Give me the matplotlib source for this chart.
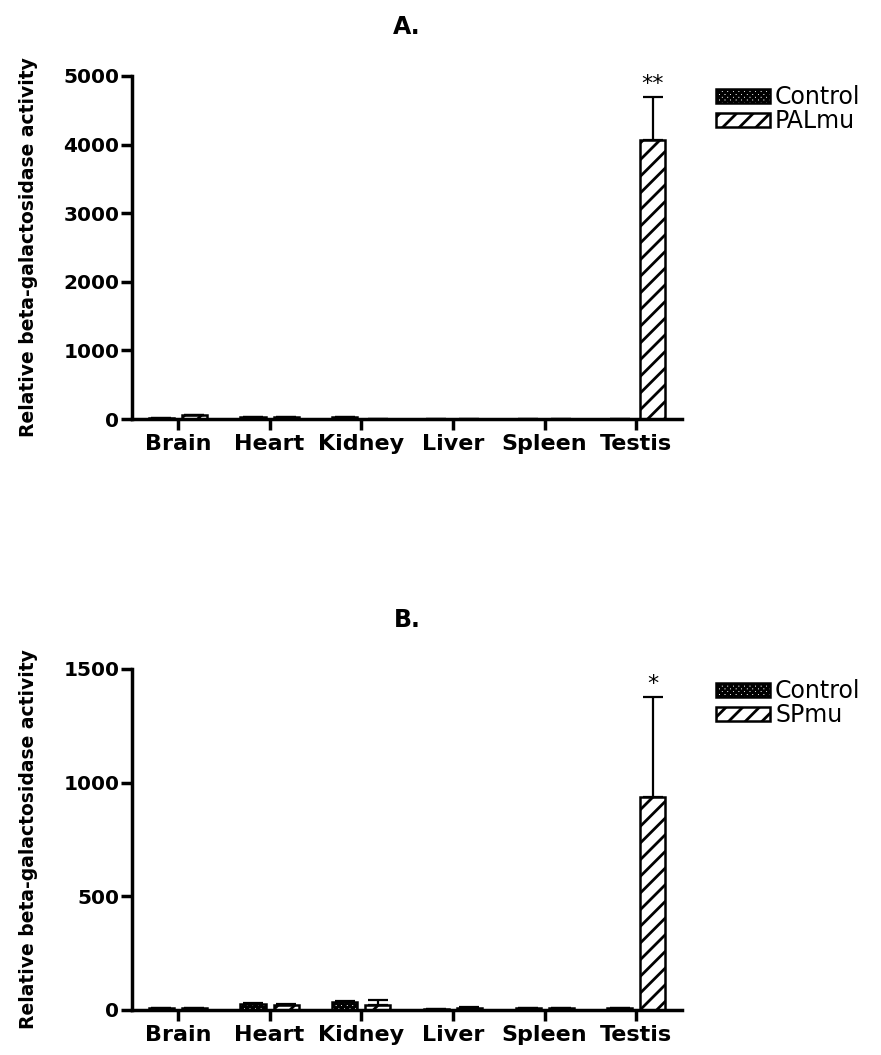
import numpy as np
import matplotlib
matplotlib.use("Agg")
import matplotlib.pyplot as plt

plt.rcParams['font.family'] = ['DejaVu Sans']
plt.rcParams['hatch.linewidth'] = 2.0

tissues = ["Brain", "Heart", "Kidney", "Liver", "Spleen", "Testis"]

# panel A
ctrl_a = [10, 25, 30, 5, 5, 5]
ctrl_a_err = [0, 0, 0, 0, 0, 0]
pal_a = [55, 25, 0, 5, 0, 4070]
pal_a_err = [10, 0, 0, 0, 0, 620]
stars_a = ["", "", "", "", "", "**"]
yticks_a = [0, 1000, 2000, 3000, 4000, 5000]

# panel B
ctrl_b = [8, 28, 35, 5, 8, 8]
ctrl_b_err = [0, 3, 3, 0, 0, 0]
sp_b = [8, 22, 22, 10, 8, 937]
sp_b_err = [0, 5, 20, 3, 0, 440]
stars_b = ["", "", "", "", "", "*"]
yticks_b = [0, 500, 1000, 1500]

fig = plt.figure(figsize=(8.81, 10.55), dpi=100)
axA = fig.add_axes([0.1498, 0.6028, 0.6245, 0.3252])
axB = fig.add_axes([0.1498, 0.0427, 0.6245, 0.3232])

w = 0.273
off = 0.18
x = np.arange(len(tissues))


def panel(ax, c, ce, m, me, mname, stars, yt, title, leg_y):
    ek = dict(elinewidth=1.6, capthick=1.6, capsize=7, ecolor="black")
    b1 = ax.bar(x - off, c, w, yerr=[np.zeros(len(ce)), ce], color="white",
                edgecolor="black", linewidth=1.8, hatch="xxxxxx", error_kw=ek,
                label="Control", zorder=2)
    b2 = ax.bar(x + off, m, w, yerr=[np.zeros(len(me)), me], color="white",
                edgecolor="black", linewidth=1.8, hatch="//", error_kw=ek,
                label=mname, zorder=2)
    for i, s in enumerate(stars):
        if s:
            ax.annotate(s, (x[i] + off, m[i] + me[i]), xytext=(0, 2),
                        textcoords="offset points", ha="center", va="bottom",
                        fontsize=16)
    ax.set_xlim(-0.5, 5.5)
    ax.set_ylim(0, yt[-1])
    ax.set_yticks(yt)
    ax.set_xticks(x)
    ax.set_xticklabels(tissues, fontsize=16, fontweight="bold")
    for lab in ax.get_yticklabels():
        lab.set_fontsize(14.5)
        lab.set_fontweight("bold")
    ax.spines["top"].set_visible(False)
    ax.spines["right"].set_visible(False)
    for sp in ["left", "bottom"]:
        ax.spines[sp].set_linewidth(2.5)
        ax.spines[sp].set_zorder(3)
    ax.tick_params(axis="y", length=8, width=2.5, pad=1)
    ax.tick_params(axis="x", length=8, width=2.5, pad=3)
    ax.set_ylabel("Relative beta-galactosidase activity", fontsize=13.5,
                  fontweight="bold")
    ax.yaxis.set_label_coords(-0.17, 0.5)
    ax.set_title(title, fontsize=17, fontweight="bold", pad=30)
    fig.legend(handles=[b1, b2], loc="upper left",
               bbox_to_anchor=(716 / 881, 1 - leg_y / 1055), frameon=False,
               fontsize=17, borderpad=0, handlelength=2.3, handleheight=0.55,
               handletextpad=0.2, labelspacing=0.02, borderaxespad=0)


panel(axA, ctrl_a, ctrl_a_err, pal_a, pal_a_err, "PALmu", stars_a, yticks_a, "A.", 85)
panel(axB, ctrl_b, ctrl_b_err, sp_b, sp_b_err, "SPmu", stars_b, yticks_b, "B.", 679)

fig.savefig("out.png", dpi=100)
